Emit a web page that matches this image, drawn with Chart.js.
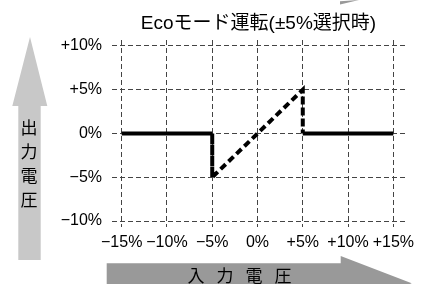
<!DOCTYPE html>
<html>
<head>
<meta charset="utf-8">
<script src="https://cdn.jsdelivr.net/npm/chart.js@4"></script>
<style>
  html, body { margin: 0; padding: 0; background: #fff; }
  #c { display: block; }
</style>
</head>
<body>
<canvas id="c" width="427" height="284"></canvas>
<script>
// 入力電圧(%) と 出力電圧(%) の関係
const inputVolt = [-15, -5, -5, 5, 5, 15];
const outputVolt = [0, 0, -5, 5, 0, 0];
const dashedSegments = [1, 2, 3]; // 破線で描く区間 (始点のインデックス)

const xTicks = [-15, -10, -5, 0, 5, 10, 15];
const xTickLabels = ['−15%', '−10%', '−5%', '0%', '+5%', '+10%', '+15%'];
const yTicks = [10, 5, 0, -5, -10];
const yTickLabels = ['+10%', '+5%', '0%', '−5%', '−10%'];

const titleText = 'Ecoモード運転(±5%選択時)';
const yAxisText = ['出', '力', '電', '圧'];
const xAxisText = ['入', '力', '電', '圧'];

const FONT = '"Liberation Sans", Arial, "Noto Sans CJK JP", sans-serif';
const JP_FONT = '"Noto Sans CJK JP", sans-serif';

// 矢印と軸の説明文
const decorations = {
  id: 'decorations',
  beforeDraw(chart) {
    const ctx = chart.ctx;
    ctx.save();
    // 左の縦矢印
    ctx.fillStyle = '#c8c8c8';
    ctx.beginPath();
    ctx.moveTo(30, 37);
    ctx.lineTo(47.3, 106);
    ctx.lineTo(40.7, 106);
    ctx.lineTo(40.7, 260);
    ctx.lineTo(18.3, 260);
    ctx.lineTo(18.3, 106);
    ctx.lineTo(12.3, 106);
    ctx.closePath();
    ctx.fill();
    // 下の横矢印
    ctx.fillStyle = '#999';
    ctx.beginPath();
    ctx.moveTo(106.7, 263.3);
    ctx.lineTo(340.7, 263.3);
    ctx.lineTo(340.7, 256);
    ctx.lineTo(411.7, 283.3);
    ctx.lineTo(340.7, 311);
    ctx.lineTo(340.7, 303);
    ctx.lineTo(106.7, 303);
    ctx.closePath();
    ctx.fill();
    // 右上の切れた矢印
    ctx.beginPath();
    ctx.moveTo(340, 1.3);
    ctx.lineTo(359, 0);
    ctx.lineTo(340, 4.6);
    ctx.closePath();
    ctx.fill();

    ctx.fillStyle = '#000';
    ctx.font = '17px ' + JP_FONT;
    ctx.textAlign = 'center';
    ctx.textBaseline = 'middle';
    yAxisText.forEach((ch, i) => ctx.fillText(ch, 29, 128 + i * 24));
    xAxisText.forEach((ch, i) => ctx.fillText(ch, 196 + i * 29, 276));
    ctx.restore();
  }
};

new Chart(document.getElementById('c'), {
  type: 'line',
  data: {
    datasets: [{
      data: inputVolt.map((x, i) => ({ x: x, y: outputVolt[i] })),
      borderColor: '#000',
      borderWidth: 4,
      borderCapStyle: 'butt',
      borderJoinStyle: 'miter',
      pointRadius: 0,
      tension: 0,
      segment: {
        borderDash: ctx => dashedSegments.includes(ctx.p0DataIndex) ? [7, 4] : undefined
      }
    }]
  },
  options: {
    responsive: false,
    animation: false,
    devicePixelRatio: 1,
    layout: { padding: { left: 0, right: 22, top: 0, bottom: 32 } },
    plugins: {
      legend: { display: false },
      tooltip: { enabled: false },
      title: {
        display: true,
        text: titleText,
        fullSize: false,
        color: '#000',
        font: { family: FONT, size: 19, weight: 'normal' },
        padding: { top: 12, bottom: 5.2 }
      }
    },
    scales: {
      x: {
        type: 'linear',
        min: -16.07,
        max: 16.29,
        afterBuildTicks: s => { s.ticks = xTicks.map(v => ({ value: v })); },
        afterFit: s => { s.height = 25; },
        ticks: {
          callback: v => xTickLabels[xTicks.indexOf(v)],
          color: '#000',
          font: { family: FONT, size: 16 },
          padding: 6,
          maxRotation: 0,
          autoSkip: false
        },
        grid: { color: '#444', lineWidth: 1, drawTicks: false },
        border: { display: false, dash: [5, 3] }
      },
      y: {
        min: -10.68,
        max: 10.68,
        afterBuildTicks: s => { s.ticks = yTicks.map(v => ({ value: v })); },
        afterFit: s => { s.width = 112; },
        ticks: {
          callback: v => yTickLabels[yTicks.indexOf(v)],
          color: '#000',
          font: { family: FONT, size: 16 },
          padding: 10,
          autoSkip: false
        },
        grid: { color: '#444', lineWidth: 1, drawTicks: false },
        border: { display: false, dash: [5, 3] }
      }
    }
  },
  plugins: [decorations]
});
</script>
</body>
</html>
